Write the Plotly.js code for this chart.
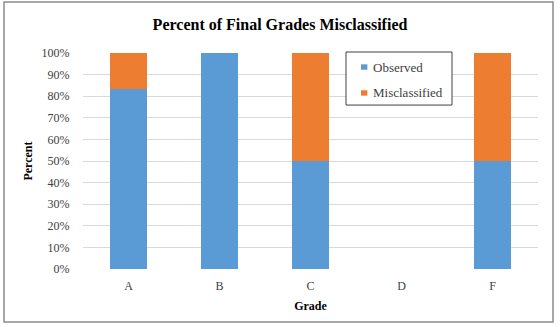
<!DOCTYPE html>
<html>
<head>
<meta charset="utf-8">
<script src="https://cdn.plot.ly/plotly-3.0.1.min.js"></script>
<style>
  html, body { margin: 0; padding: 0; background: #fff; }
  #chart { width: 560px; height: 327px; }
</style>
</head>
<body>
<div id="chart"></div>
<script>
// Share of each final grade that was observed vs. misclassified
const grades = ['A', 'B', 'C', 'D', 'F'];
const seriesNames = ['Observed', 'Misclassified'];
const observed = [0.8333, 1.0, 0.5, 0, 0.5];
const misclassified = [0.1667, 0, 0.5, 0, 0.5];
const seriesColors = ['#5B9BD5', '#ED7D31'];

const serif = "'Liberation Serif', 'Times New Roman', serif";

const traces = [observed, misclassified].map((vals, i) => ({
  type: 'bar', name: seriesNames[i], x: grades, y: vals,
  marker: { color: seriesColors[i] }, showlegend: false, hoverinfo: 'x+y'
}));

// Compact boxed legend (small square swatch right next to the label)
const legendBox = { x0: 0.578, x1: 0.811, y0: 0.759, y1: 1.0046 };
const legendRows = [0.935, 0.815];
const shapes = [
  {
    type: 'rect', xref: 'paper', yref: 'paper',
    x0: legendBox.x0, x1: legendBox.x1, y0: legendBox.y0, y1: legendBox.y1,
    line: { color: '#404040', width: 1 }, fillcolor: '#fff', layer: 'above'
  },
  // outer chart frame
  {
    type: 'rect', xref: 'paper', yref: 'paper',
    x0: -0.1736, x1: 1.033, y0: -0.245, y1: 1.236,
    line: { color: '#8C8C8C', width: 1.5 }, fillcolor: 'rgba(0,0,0,0)'
  }
];
const annotations = [];
seriesNames.forEach((name, i) => {
  const yc = legendRows[i];
  shapes.push({
    type: 'rect', xref: 'paper', yref: 'paper',
    x0: 0.611, x1: 0.625, y0: yc - 0.0125, y1: yc + 0.0125,
    line: { width: 0 }, fillcolor: seriesColors[i], layer: 'above'
  });
  annotations.push({
    xref: 'paper', yref: 'paper', x: 0.633, y: yc,
    xanchor: 'left', yanchor: 'middle', showarrow: false,
    text: name, font: { family: serif, size: 13, color: '#404040' }
  });
});

const layout = {
  width: 560, height: 327,
  margin: { l: 83, r: 22, t: 53, b: 58 },
  paper_bgcolor: '#fff', plot_bgcolor: '#fff',
  barmode: 'stack', bargap: 0.6,
  showlegend: false,
  font: { family: serif, color: '#404040', size: 12 },
  title: {
    text: '<b>Percent of Final Grades Misclassified</b>',
    font: { family: serif, size: 16, color: '#000' },
    x: 0.5, xanchor: 'center', y: 0.925, yanchor: 'middle'
  },
  xaxis: {
    title: { text: '<b>Grade</b>', font: { family: serif, size: 12, color: '#000' }, standoff: 9 },
    showgrid: false, zeroline: false, showline: false,
    ticks: 'outside', ticklen: 6, tickcolor: 'rgba(0,0,0,0)',
    tickfont: { family: serif, size: 12, color: '#404040' }
  },
  yaxis: {
    title: { text: '<b>Percent</b>', font: { family: serif, size: 12, color: '#000' }, standoff: 6 },
    range: [0, 1], dtick: 0.1, tickformat: '.0%',
    showgrid: true, gridcolor: '#D9D9D9', gridwidth: 1,
    zeroline: false, showline: false,
    ticks: 'outside', ticklen: 10, tickcolor: 'rgba(0,0,0,0)',
    tickfont: { family: serif, size: 12, color: '#404040' }
  },
  shapes: shapes,
  annotations: annotations
};

Plotly.newPlot('chart', traces, layout, { displayModeBar: false, staticPlot: true });
</script>
</body>
</html>
